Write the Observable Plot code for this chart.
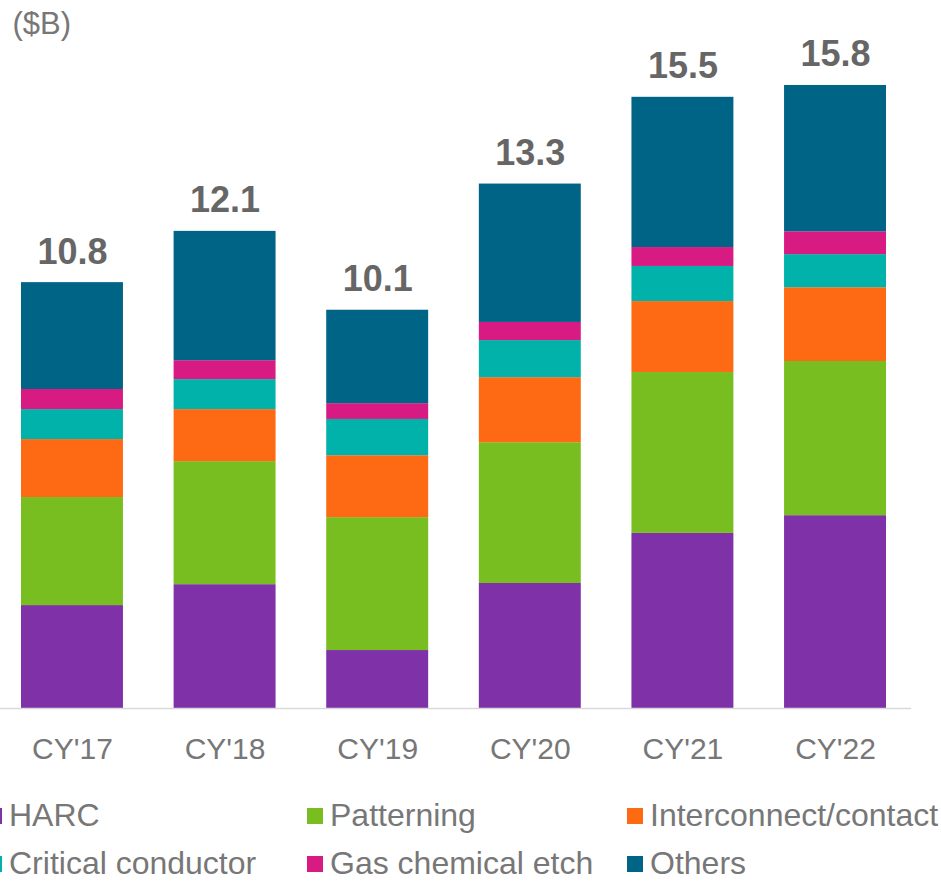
<!DOCTYPE html>
<html>
<head>
<meta charset="utf-8">
<script src="https://cdn.jsdelivr.net/npm/d3@7"></script>
<script src="https://cdn.jsdelivr.net/npm/@observablehq/plot@0.6"></script>
<style>
  html, body { margin: 0; padding: 0; background: #fff; }
  #wrap { position: relative; width: 941px; height: 881px; overflow: hidden; font-family: "Liberation Sans", Arial, sans-serif; }
  #chart { position: absolute; left: 0; top: 0; }
  .lg { position: absolute; font-size: 32px; line-height: 28px; color: #777; white-space: nowrap; }
  .sw { position: absolute; width: 16px; height: 16px; }
</style>
</head>
<body>
<div id="wrap"><div id="chart"></div></div>
<script>
// ---- data ----
const years = ["CY'17", "CY'18", "CY'19", "CY'20", "CY'21", "CY'22"];
const seriesNames = ["HARC", "Patterning", "Interconnect/contact", "Critical conductor", "Gas chemical etch", "Others"];
const harc         = [2.61, 3.14, 1.47, 3.17, 4.44, 4.89];
const patterning   = [2.74, 3.12, 3.37, 3.57, 4.08, 3.91];
const interconnect = [1.47, 1.32, 1.57, 1.65, 1.80, 1.87];
const critical     = [0.76, 0.76, 0.92, 0.94, 0.89, 0.84];
const gasEtch      = [0.51, 0.48, 0.40, 0.46, 0.48, 0.58];
const others       = [2.71, 3.28, 2.37, 3.51, 3.81, 3.71];
const totals       = [10.8, 12.1, 10.1, 13.3, 15.5, 15.8];
const unitLabel = "($B)";
const colors = ["#7F31A7", "#79BE21", "#FE6A14", "#00B2A9", "#D81B82", "#006487"];

const seriesValues = [harc, patterning, interconnect, critical, gasEtch, others];
const rows = [];
seriesNames.forEach((s, si) => {
  years.forEach((y, yi) => rows.push({year: y, series: s, value: seriesValues[si][yi]}));
});
const totalRows = years.map((y, i) => ({year: y, total: totals[i]}));

const chart = Plot.plot({
  width: 941,
  height: 790,
  marginTop: 0,
  marginLeft: 21,
  marginRight: 55,
  marginBottom: 82,
  x: {domain: years, paddingInner: 0.332, paddingOuter: 0, round: false, label: null, axis: null},
  y: {domain: [0, 17.955], axis: null},
  color: {domain: seriesNames, range: colors},
  style: {fontFamily: "'Liberation Sans', Arial, sans-serif", color: "#777", background: "white", overflow: "visible"},
  marks: [
    Plot.barY(rows, {x: "year", y: "value", fill: "series"}),
    Plot.ruleY([0], {stroke: "#d9d9d9", strokeWidth: 1.5, insetLeft: -21, insetRight: -25}),
    Plot.axisX({tickSize: 0, tickPadding: 29, fontSize: 30, label: null, fill: "#777"}),
    Plot.text(totalRows, {x: "year", y: "total", text: d => d.total.toFixed(1), dy: -19, lineAnchor: "bottom",
      fontSize: 36, fontWeight: "bold", fill: "#666"}),
    Plot.text([unitLabel], {frameAnchor: "top-left", text: d => d, dx: -9, dy: 11, textAnchor: "start",
      lineAnchor: "top", fontSize: 31, fill: "#777"})
  ]
});
document.getElementById("chart").appendChild(chart);

// legend (HTML, below the SVG)
const wrap = document.getElementById("wrap");
const colX = [-14, 307, 627];
const rowTop = [801, 849];
seriesNames.forEach((s, i) => {
  const c = i % 3, r = Math.floor(i / 3);
  const sw = document.createElement("div");
  sw.className = "sw";
  sw.style.left = colX[c] + "px";
  sw.style.top = (rowTop[r] + 7) + "px";
  sw.style.background = colors[i];
  wrap.appendChild(sw);
  const t = document.createElement("div");
  t.className = "lg";
  t.style.left = (colX[c] + 23) + "px";
  t.style.top = rowTop[r] + "px";
  t.textContent = s;
  wrap.appendChild(t);
});
</script>
</body>
</html>
